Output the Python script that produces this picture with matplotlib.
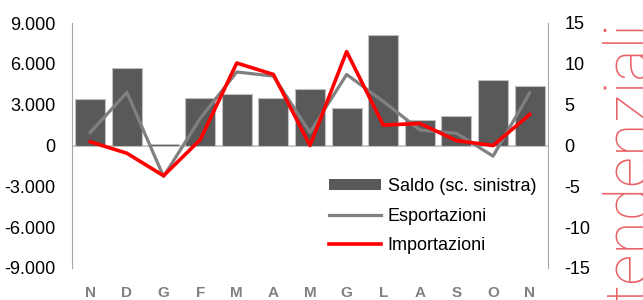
import matplotlib
matplotlib.use('Agg')
import matplotlib.pyplot as plt
from matplotlib.patches import Patch
from matplotlib.lines import Line2D
import numpy as np

plt.rcParams['font.family'] = ['Liberation Sans Narrow', 'Liberation Sans', 'DejaVu Sans']
plt.rcParams['axes.unicode_minus'] = False

# dati
mesi = ['N', 'D', 'G', 'F', 'M', 'A', 'M', 'G', 'L', 'A', 'S', 'O', 'N']
saldo = [3400, 5720, 80, 3470, 3790, 3490, 4120, 2740, 8100, 1850, 2180, 4790, 4400]
esportazioni = [1.6, 6.5, -3.8, 3.3, 9.0, 8.5, 1.6, 8.7, 5.4, 1.9, 1.5, -1.3, 6.45]
importazioni = [0.45, -0.95, -3.7, 0.7, 10.1, 8.7, 0.0, 11.5, 2.5, 2.7, 0.6, 0.0, 3.8]

x = np.arange(len(mesi))

fig = plt.figure(figsize=(6.43, 3.0), dpi=100)
ax = fig.add_axes([72/643, 1 - 268/300, (548 - 72)/643, 245/300])
ax2 = ax.twinx()

ax.bar(x, saldo, width=0.82, color='#595959', edgecolor='#bfbfbf', linewidth=0.8, zorder=2)
ax.axhline(0, color='#bfbfbf', linewidth=1.2, zorder=1)
ax.set_xlim(-0.5, len(mesi) - 0.5)
ax.set_ylim(-9000, 9000)
ax.set_yticks([-9000, -6000, -3000, 0, 3000, 6000, 9000])
ax.set_yticklabels(['-9.000', '-6.000', '-3.000', '0', '3.000', '6.000', '9.000'])

ax2.plot(x, esportazioni, color='#808080', linewidth=2.3, zorder=3)
ax2.plot(x, importazioni, color='#ff0000', linewidth=2.6, zorder=4)
ax2.set_ylim(-15, 15)
ax2.set_yticks([-15, -10, -5, 0, 5, 10, 15])

ax.set_xticks(x)
ax.set_xticklabels(mesi, fontsize=11, fontweight='bold', color='#808080')
ax.tick_params(axis='x', length=0, pad=13)
ax.tick_params(axis='y', length=0, pad=12, labelsize=13)
ax2.tick_params(axis='y', length=0, pad=12, labelsize=13)

for a in (ax, ax2):
    a.spines['top'].set_visible(False)
    a.spines['bottom'].set_visible(False)
    a.spines['left'].set_color('#a6a6a6')
    a.spines['right'].set_color('#a6a6a6')
ax.spines['right'].set_visible(False)
ax2.spines['left'].set_visible(False)

handles = [Patch(facecolor='#595959', edgecolor='none'),
           Line2D([], [], color='#808080', linewidth=2.3),
           Line2D([], [], color='#ff0000', linewidth=2.6)]
labels = ['Saldo (sc. sinistra)', 'Esportazioni', 'Importazioni']
ax2.legend(handles, labels, loc='upper left', bbox_to_anchor=(329/643, 1 - 178/300),
           bbox_transform=fig.transFigure, frameon=False, fontsize=13,
           handlelength=2.9, handleheight=0.6, handletextpad=0.35,
           labelspacing=0.7, borderpad=0, borderaxespad=0)

fig.text(647/643, 1 - 302/300, 'tendenziali', rotation=90, rotation_mode='anchor',
         ha='left', va='baseline', fontsize=44, color='#ea6064',
         family=['Roboto', 'DejaVu Sans'], fontweight='light')

fig.savefig('out.png', dpi=100)
